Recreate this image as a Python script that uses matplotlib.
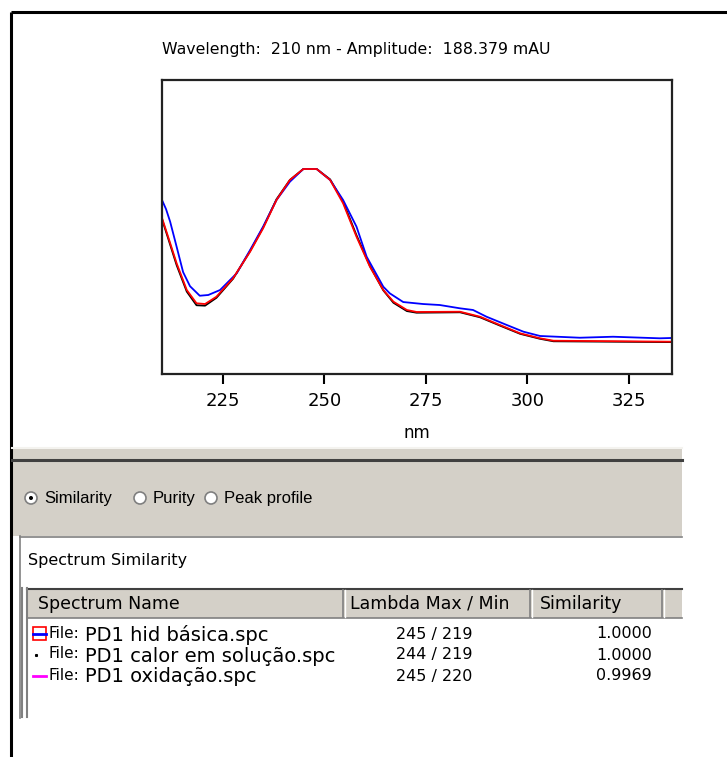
import numpy as np
import matplotlib.pyplot as plt
from matplotlib.patches import Rectangle, Circle

W, H = 727, 757

# spectra (nm, mAU)
nm_blue = [210, 211, 212, 213.6, 215.2, 216.9, 219.3, 221.4, 224.3, 228.4, 231.7, 234.9,
           238.2, 241.5, 244.8, 248.1, 251.4, 254.6, 257.9, 260.4, 264.5, 266.1,
           269.4, 274.3, 278.4, 283.4, 286.6, 289.9, 294.9, 299, 303.1, 312.9,
           321.1, 332.6, 335.6]
amp_blue = [210.1, 199, 184, 153.7, 123, 106, 94.5, 95.4, 101.4, 121.6, 149.7, 177.9,
            210.1, 232.2, 247.5, 247.5, 234.3, 210.1, 177.9, 141.6, 105.4, 97.4,
            86.9, 84.5, 83.3, 79.3, 77.3, 69.2, 59.2, 51.1, 45.9, 43.8,
            45.0, 43.1, 43.5]

nm_red = [210, 211.5, 213.6, 216.1, 218.5, 220.6, 223.4, 227.5, 231.7, 234.9, 238.2,
          241.5, 244.8, 248.1, 251.4, 254.6, 257.9, 261.2, 264.5, 267, 270.3,
          272.7, 283.4, 288.3, 293.2, 298.2, 303.1, 306.4, 335.6]
amp_red = [188.4, 165.8, 133.7, 101.4, 85.4, 84.5, 93.3, 115.6, 147.7, 175.9, 210.1,
           234.3, 247.5, 247.5, 234.3, 206.1, 165.8, 129.6, 101.4, 87.3, 77.3,
           74.9, 75.2, 69.2, 59.2, 49.1, 43.1, 40.2, 39.0]

nm_black = [210, 211.5, 213.6, 216.1, 218.5, 220.6, 223.4, 227.5, 231.7, 234.9, 238.2,
            241.5, 244.8, 248.1, 251.4, 254.6, 257.9, 261.2, 264.5, 267, 270.3,
            272.7, 283.4, 288.3, 293.2, 298.2, 303.1, 306.4, 335.6]
amp_black = [187.0, 164.0, 131.5, 99.5, 83.0, 82.5, 92.0, 115.0, 148.5, 177.0, 211.0,
             234.3, 247.5, 247.5, 235.0, 208.0, 167.5, 130.5, 101.0, 86.0, 76.0,
             74.0, 74.5, 68.5, 58.5, 48.5, 42.5, 39.5, 38.5]

x_ticks = [225, 250, 275, 300, 325]

col_headers = ["Spectrum Name", "Lambda Max / Min", "Similarity"]
row_names = ["PD1 hid básica.spc", "PD1 calor em solução.spc", "PD1 oxidação.spc"]
row_lambda = ["245 / 219", "244 / 219", "245 / 220"]
row_sim = ["1.0000", "1.0000", "0.9969"]

radio_labels = ["Similarity", "Purity", "Peak profile"]

GRAY = '#d4d0c8'
UI = 'DejaVu Sans'

fig = plt.figure(figsize=(W / 100, H / 100), dpi=100)

# background "window" drawn in pixel coordinates
bg = fig.add_axes([0, 0, 1, 1])
bg.set_xlim(0, W)
bg.set_ylim(H, 0)
bg.axis('off')

# outer frame
bg.plot([11, W], [12, 12], color='k', lw=2.2, solid_capstyle='butt')
bg.plot([11, 11], [12, H], color='k', lw=2.2, solid_capstyle='butt')

# grey control panel
bg.add_patch(Rectangle((12, 447), 670, 89, facecolor=GRAY, edgecolor='none'))
bg.plot([12, 682], [448, 448], color='#f4f3ef', lw=1.5)
bg.plot([12, 682], [459.5, 459.5], color='#404040', lw=2.2)

# radio buttons
radio_x = [31, 140, 211]
for i, (rx, lab) in enumerate(zip(radio_x, radio_labels)):
    bg.add_patch(Circle((rx, 498), 6, facecolor='white', edgecolor='#808080', lw=1.2))
    if i == 0:
        bg.add_patch(Circle((rx, 498), 2, facecolor='k', edgecolor='none'))
    bg.text(rx + 13, 498, lab, fontsize=12, va='center', ha='left',
            family='Liberation Sans')

# spectrum similarity box
bg.add_patch(Rectangle((20, 536), 662, 182, facecolor='white', edgecolor='none'))
bg.plot([20, 682], [536.5, 536.5], color='#808080', lw=1.2)
bg.plot([20, 20], [536, 718], color='#808080', lw=1.2)
bg.text(28, 561, "Spectrum Similarity", fontsize=11.5, va='center', ha='left', family=UI)

# table header
bg.add_patch(Rectangle((27, 589), 655, 29, facecolor=GRAY, edgecolor='none'))
bg.plot([27, 682], [589, 589], color='#404040', lw=1.5)
bg.plot([27, 682], [618, 618], color='#808080', lw=1.2)
col_edges = [27, 343, 530, 662, 682]
for ce in col_edges[1:-1]:
    bg.plot([ce, ce], [590, 617], color='#808080', lw=1.2)
    bg.plot([ce + 1.5, ce + 1.5], [590, 617], color='white', lw=1)
col_text_x = [38, 350, 540]
for cx, lab in zip(col_text_x, col_headers):
    bg.text(cx, 604, lab, fontsize=12.5, va='center', ha='left', family=UI)

# table left border
bg.plot([21.5, 21.5], [588, 717], color='#808080', lw=1.5)
bg.plot([26.5, 26.5], [588, 717], color='#808080', lw=1.5)

row_y = [634, 655, 676]
for i, ry in enumerate(row_y):
    bg.text(48, ry - 1, "File:", fontsize=11, va='center', ha='left', family=UI)
    bg.text(85, ry + 1, row_names[i], fontsize=14, va='center', ha='left', family=UI)
    bg.text(434, ry, row_lambda[i], fontsize=11.5, va='center', ha='center', family=UI)
    bg.text(652, ry, row_sim[i], fontsize=11.5, va='center', ha='right', family=UI)
# row icons
bg.add_patch(Rectangle((33, 627), 13, 13, facecolor='white', edgecolor='#ff0000', lw=1.2))
bg.plot([33, 46], [633.5, 633.5], color='#0000ff', lw=2)
bg.plot([36], [655], marker='s', ms=1.2, color='k')
bg.plot([33, 46], [676, 676], color='#ff00ff', lw=2)

# spectrum plot
ax = fig.add_axes([162 / W, 1 - 374 / H, (672 - 162) / W, (374 - 80) / H])
ax.plot(nm_black, amp_black, color='k', lw=1.3)
ax.plot(nm_blue, amp_blue, color='#0000ff', lw=1.3)
ax.plot(nm_red, amp_red, color='#ff0000', lw=1.3)
ax.set_xlim(210, 335.6)
ax.set_ylim(0, 355)
ax.set_yticks([])
ax.set_xticks(x_ticks)
ax.tick_params(axis='x', direction='out', length=7, width=1.5, labelsize=13, pad=6)
for s in ax.spines.values():
    s.set_linewidth(1.6)
    s.set_color('#222222')
ax.set_xlabel('nm', fontsize=12, labelpad=10)
ax.set_title('Wavelength:  210 nm - Amplitude:  188.379 mAU', fontsize=11.3,
             loc='left', pad=19)

fig.savefig('out.png', dpi=100)
